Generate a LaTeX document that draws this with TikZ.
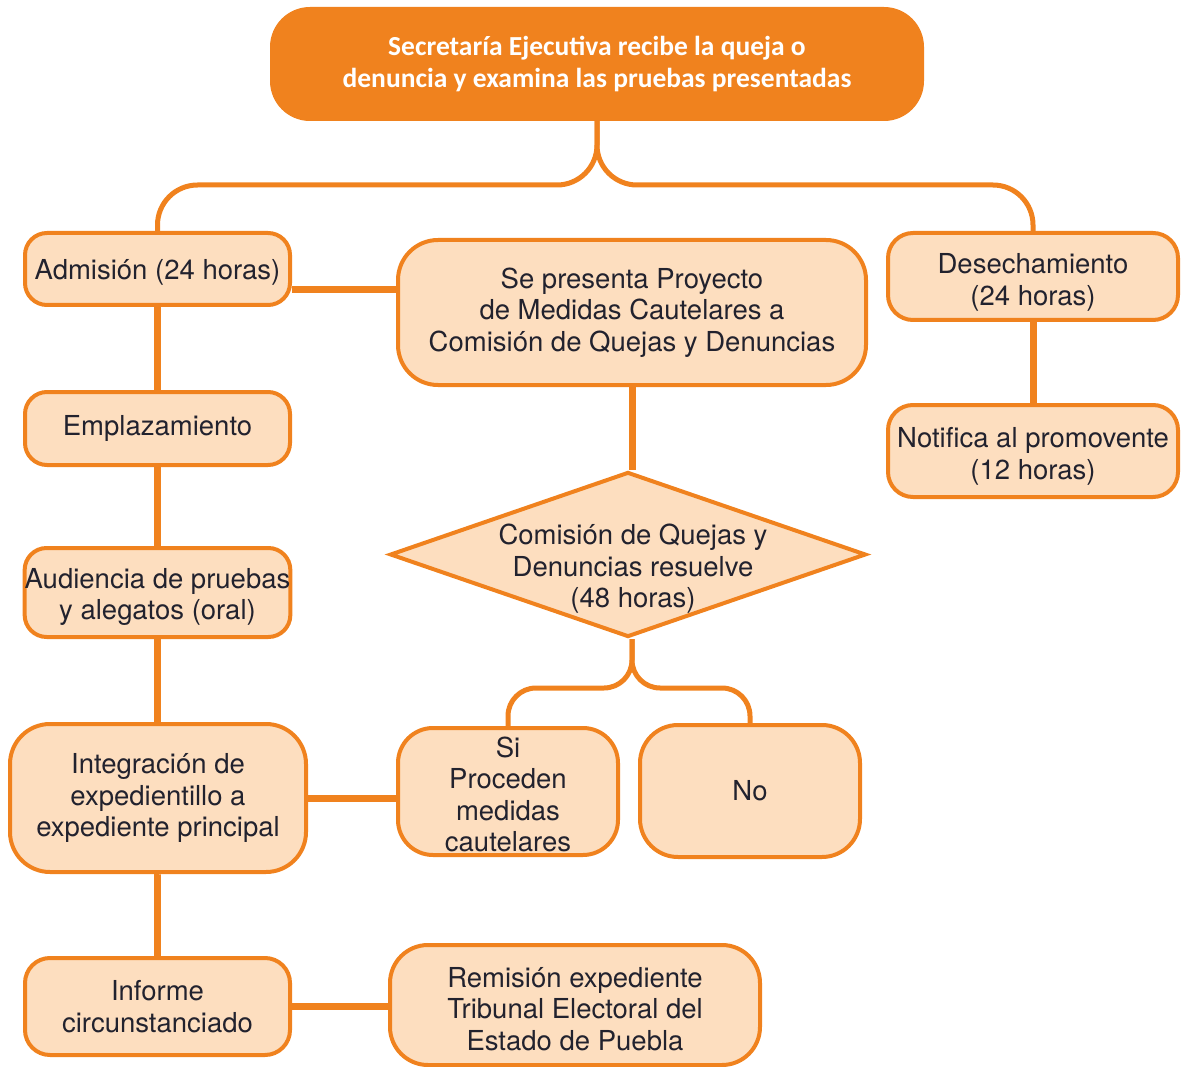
\documentclass[tikz,border=0pt]{standalone}
\usepackage{fontspec}
\setmainfont{TeX Gyre Heros}
\newfontfamily\carlito{Carlito}
\usetikzlibrary{shapes.geometric,calc}
\definecolor{org}{HTML}{F0821E}
\definecolor{peach}{HTML}{FDDEBF}
\definecolor{ink}{HTML}{22222E}
\newcommand\lowr[1]{\rule{0pt}{#1pt}}
\begin{document}
\begin{tikzpicture}[x=1pt,y={(0pt,-1pt)},
  box/.style={draw=org, line width=4pt, fill=peach, rounded corners=#1, inner sep=0pt,
    align=center, text=ink, font=\fontsize{27.5}{31.5}\selectfont},
  box/.default=22pt,
  conn/.style={draw=org, line width=7pt},
  brace/.style={draw=org, line width=5pt, rounded corners=#1},
]
\useasboundingbox (0,0) rectangle (1181,1067);

% nodes
\node[box=38pt, fill=org, draw=org, text=white, minimum width=650pt, minimum height=110pt,
  font=\carlito\bfseries\fontsize{27.5}{32}\selectfont] (top) at (597,64)
  {Secretaría Ejecutiva recibe la queja o\\denuncia y examina las pruebas presentadas};
\node[box, minimum width=265pt, minimum height=72pt] (adm) at (157.5,269) {\lowr{26}Admisión (24 horas)};
\node[box=40pt, minimum width=468pt, minimum height=145pt] (proy) at (632,312.5)
  {Se presenta Proyecto\\de Medidas Cautelares a\\Comisión de Quejas y Denuncias};
\node[box=25pt, minimum width=290pt, minimum height=87pt] (des) at (1033,276.5)
  {\lowr{32}Desechamiento\\(24 horas)};
\node[box=25pt, minimum width=290pt, minimum height=92pt] (notif) at (1033,451)
  {\lowr{31}Notifica al promovente\\(12 horas)};
\node[box, minimum width=265pt, minimum height=73pt] (empl) at (157.5,428.5) {Emplazamiento};
\node[box, minimum width=265pt, minimum height=89pt] (aud) at (157.5,592.5)
  {\lowr{29}Audiencia de pruebas\\y alegatos (oral)};
\node[box=40pt, minimum width=296pt, minimum height=148pt] (integ) at (158,798)
  {Integración de\\expedientillo a\\expediente principal};
\node[diamond, draw=org, line width=4pt, fill=peach, inner sep=0pt,
  minimum width=476pt, minimum height=165pt] (dia) at (628,554.5) {};
\node[align=center, text=ink, font=\fontsize{27.5}{31.5}\selectfont] (diatext) at (633,569)
  {Comisión de Quejas y\\Denuncias resuelve\\(48 horas)};
\node[box=35pt, minimum width=220pt, minimum height=127pt] (si) at (508,791.5)
  {\lowr{26}Si\\Proceden\\medidas\\cautelares};
\node[box=38pt, minimum width=220pt, minimum height=132pt] (no) at (750,791) {No};
\node[box=25pt, minimum width=265pt, minimum height=97pt] (inf) at (157.5,1006.5)
  {Informe\\circunstanciado};
\node[box=38pt, minimum width=370pt, minimum height=120pt] (rem) at (575,1005)
  {\lowr{28}Remisión expediente\\Tribunal Electoral del\\Estado de Puebla};

% connectors
\coordinate (bj) at (597,185);
\draw[brace=40pt] (adm.north) |- (bj) -- (top.south);
\draw[brace=40pt] (des.north) |- (bj) -- (top.south);
\coordinate (dj) at (632,688);
\draw[brace=28pt] (si.north) |- (dj) -- (dj |- dia.south);
\draw[brace=28pt] (no.north) |- (dj) -- (dj |- dia.south);

\path (adm.east) ++(0,21) coordinate (a1);
\draw[conn] (a1) -- (a1 -| proy.west);
\draw[conn] (adm.south) -- (empl.north);
\draw[conn] (empl.south) -- (aud.north);
\draw[conn] (aud.south) -- (aud.south |- integ.north);
\draw[conn] (integ.south) -- (integ.south -| inf.north) -- (inf.north);
\draw[conn] (integ.east) -- (integ.east -| si.west);
\draw[conn] (inf.east) -- (inf.east -| rem.west);
\draw[conn] (proy.south) -- (proy.south |- dia.north);
\draw[conn] (des.south) -- (notif.north);
\end{tikzpicture}
\end{document}
